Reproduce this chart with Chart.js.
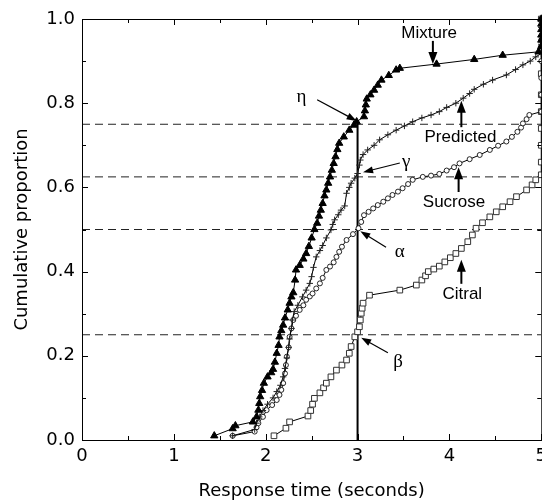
<!DOCTYPE html>
<html>
<head>
<meta charset="utf-8">
<script src="https://cdn.jsdelivr.net/npm/chart.js@4/dist/chart.umd.min.js"></script>
<style>
html,body{margin:0;padding:0;background:#fff;overflow:hidden;}
#wrap{position:relative;width:553px;height:502px;}
</style>
</head>
<body>
<div id="wrap"><canvas id="c" width="553" height="502"></canvas></div>
<script>
// ---- data ----
const mixtureX = [1.44,1.64,1.67,1.86,1.90,1.92,1.93,1.94,1.96,1.98,2.02,2.06,2.08,2.10,2.12,2.14,2.15,2.17,2.19,2.21,2.24,2.26,2.28,2.30,2.32,2.33,2.37,2.41,2.44,2.47,2.50,2.53,2.56,2.58,2.60,2.62,2.64,2.66,2.68,2.70,2.72,2.74,2.76,2.78,2.80,2.85,2.91,2.96,2.99,3.07,3.08,3.09,3.10,3.14,3.18,3.22,3.26,3.34,3.42,3.46,3.86,4.27,4.58,4.97,5.00,5.00,5.00,5.00,5.00,5.00];
const mixtureY = [0.010,0.027,0.034,0.043,0.055,0.071,0.087,0.103,0.118,0.135,0.150,0.160,0.168,0.185,0.206,0.225,0.245,0.260,0.273,0.290,0.309,0.325,0.340,0.350,0.380,0.404,0.415,0.430,0.443,0.460,0.480,0.500,0.515,0.532,0.546,0.562,0.580,0.594,0.610,0.625,0.641,0.657,0.673,0.690,0.705,0.720,0.736,0.748,0.756,0.768,0.782,0.796,0.810,0.820,0.831,0.843,0.855,0.866,0.879,0.883,0.893,0.904,0.914,0.922,0.935,0.950,0.962,0.975,0.988,1.000];

const predictedX = [1.64,1.88,1.90,1.93,1.97,2.02,2.08,2.12,2.16,2.19,2.21,2.23,2.25,2.26,2.28,2.29,2.31,2.35,2.40,2.44,2.48,2.50,2.52,2.55,2.59,2.62,2.66,2.71,2.73,2.75,2.79,2.82,2.86,2.88,2.91,2.93,2.97,3.00,3.02,3.03,3.06,3.11,3.18,3.24,3.33,3.42,3.51,3.60,3.70,3.80,3.89,3.97,4.07,4.15,4.22,4.27,4.37,4.47,4.62,4.72,4.80,4.88,4.94,5.00,5.00,5.00,5.00,5.00];
const predictedY = [0.010,0.025,0.040,0.055,0.070,0.085,0.100,0.115,0.130,0.150,0.170,0.195,0.220,0.240,0.265,0.285,0.305,0.320,0.340,0.356,0.372,0.388,0.410,0.435,0.450,0.462,0.480,0.499,0.512,0.523,0.535,0.546,0.556,0.586,0.600,0.610,0.622,0.633,0.653,0.665,0.678,0.689,0.700,0.713,0.725,0.736,0.746,0.756,0.765,0.772,0.780,0.790,0.800,0.812,0.823,0.833,0.845,0.855,0.867,0.880,0.891,0.900,0.910,0.918,0.940,0.960,0.980,1.000];

const sucroseX = [1.64,1.88,1.90,1.92,1.97,2.01,2.07,2.12,2.15,2.17,2.19,2.21,2.22,2.23,2.25,2.26,2.28,2.30,2.33,2.37,2.41,2.44,2.48,2.51,2.55,2.59,2.62,2.66,2.70,2.74,2.77,2.80,2.83,2.88,2.95,3.01,3.04,3.07,3.12,3.17,3.22,3.28,3.33,3.38,3.44,3.49,3.55,3.60,3.71,3.80,3.89,3.97,4.05,4.11,4.22,4.33,4.44,4.53,4.62,4.68,4.74,4.78,4.80,4.84,4.87,5.00,5.00,5.00,5.00,5.00,5.00];
const sucroseY = [0.010,0.020,0.030,0.040,0.055,0.071,0.083,0.095,0.107,0.119,0.135,0.158,0.178,0.198,0.220,0.245,0.265,0.285,0.295,0.309,0.320,0.333,0.341,0.348,0.360,0.372,0.385,0.404,0.412,0.422,0.435,0.447,0.459,0.475,0.489,0.503,0.518,0.534,0.542,0.550,0.558,0.566,0.574,0.582,0.590,0.598,0.608,0.618,0.625,0.628,0.632,0.640,0.648,0.657,0.667,0.677,0.689,0.699,0.709,0.720,0.732,0.742,0.752,0.762,0.772,0.780,0.820,0.860,0.900,0.950,1.000];

const citralX = [2.09,2.22,2.26,2.46,2.49,2.51,2.53,2.59,2.63,2.66,2.71,2.77,2.83,2.88,2.91,2.93,2.97,3.00,3.02,3.03,3.04,3.05,3.06,3.13,3.46,3.64,3.70,3.74,3.77,3.83,3.89,3.95,4.01,4.07,4.13,4.20,4.25,4.29,4.36,4.44,4.51,4.58,4.66,4.73,4.84,4.90,4.94,5.00,5.00,5.00,5.00,5.00,5.00,5.00,5.00,5.00];
const citralY = [0.010,0.028,0.043,0.057,0.070,0.085,0.099,0.112,0.124,0.135,0.150,0.166,0.178,0.190,0.206,0.222,0.245,0.257,0.269,0.285,0.301,0.313,0.325,0.344,0.356,0.368,0.380,0.390,0.400,0.406,0.413,0.423,0.433,0.443,0.455,0.471,0.487,0.503,0.516,0.530,0.542,0.554,0.566,0.578,0.594,0.606,0.618,0.630,0.660,0.700,0.740,0.780,0.820,0.870,0.930,1.000];

const guideLevels = [0.25, 0.5, 0.625, 0.75];
const cutTime = 3;
const cutTop = 0.756;
const xTickValues = [0,1,2,3,4,5];
const xMinorValues = [0.5,1.5,2.5,3.5,4.5];
const yTickValues = [0,0.2,0.4,0.6,0.8,1.0];
const yMinorValues = [0.1,0.3,0.5,0.7,0.9];

const labels = [
  {text:'Mixture',   tx:3.78, ty:0.967, from:[3.82,0.948], to:[3.82,0.893], bold:true, serif:false},
  {text:'η',         tx:2.39, ty:0.815, from:[2.56,0.808], to:[2.99,0.758], bold:false, serif:true},
  {text:'Predicted', tx:4.12, ty:0.718, from:[4.13,0.743], to:[4.13,0.806], bold:true, serif:false},
  {text:'γ',         tx:3.53, ty:0.660, from:[3.46,0.658], to:[3.06,0.636], bold:false, serif:true},
  {text:'Sucrose',   tx:4.05, ty:0.565, from:[4.10,0.589], to:[4.10,0.648], bold:true, serif:false},
  {text:'α',         tx:3.46, ty:0.447, from:[3.31,0.458], to:[3.03,0.496], bold:false, serif:true},
  {text:'Citral',    tx:4.14, ty:0.347, from:[4.13,0.371], to:[4.13,0.428], bold:true, serif:false},
  {text:'β',         tx:3.44, ty:0.185, from:[3.33,0.207], to:[3.04,0.243], bold:false, serif:true}
];

const pts = (xs, ys) => xs.map((x, i) => ({x: x, y: ys[i]}));

const datasets = [
  {label:'Mixture', data:pts(mixtureX,mixtureY), showLine:true, borderColor:'#000', borderWidth:1,
   pointStyle:'triangle', pointRadius:4.2, pointBackgroundColor:'#000', pointBorderColor:'#000', pointBorderWidth:1, clip:false},
  {label:'Predicted', data:pts(predictedX,predictedY), showLine:true, borderColor:'#000', borderWidth:1,
   pointStyle:'cross', pointRadius:3.2, pointBorderColor:'#222', pointBorderWidth:1, clip:false},
  {label:'Sucrose', data:pts(sucroseX,sucroseY), showLine:true, borderColor:'#000', borderWidth:1,
   pointStyle:'circle', pointRadius:2.5, pointBackgroundColor:'#fff', pointBorderColor:'#111', pointBorderWidth:0.9, clip:false},
  {label:'Citral', data:pts(citralX,citralY), showLine:true, borderColor:'#000', borderWidth:1,
   pointStyle:'rect', pointRadius:4, pointBackgroundColor:'#fff', pointBorderColor:'#333', pointBorderWidth:1, clip:false},
  {label:'cut', data:[{x:cutTime,y:0},{x:cutTime,y:cutTop}], showLine:true, borderColor:'#000', borderWidth:2, pointRadius:0}
];
guideLevels.forEach(g => datasets.push({label:'guide', data:[{x:0,y:g},{x:5,y:g}], showLine:true,
  borderColor:'#222', borderWidth:1, borderDash:[8,5], pointRadius:0}));

const framePlugin = {
  id:'frame',
  afterDatasetsDraw(chart){
    const {ctx, chartArea:a, scales:{x, y}} = chart;
    ctx.save();
    ctx.strokeStyle = '#000';
    ctx.lineWidth = 1;
    ctx.strokeRect(a.left + 0.5, a.top + 0.5, a.right - a.left, a.bottom - a.top);
    ctx.beginPath();
    const tick = (vals, len) => {
      vals.forEach(v => {
        const px = Math.round(x.getPixelForValue(v)) + 0.5;
        ctx.moveTo(px, a.bottom); ctx.lineTo(px, a.bottom - len);
        ctx.moveTo(px, a.top); ctx.lineTo(px, a.top + len);
      });
    };
    const tickY = (vals, len) => {
      vals.forEach(v => {
        const py = Math.round(y.getPixelForValue(v)) + 0.5;
        ctx.moveTo(a.left, py); ctx.lineTo(a.left + len, py);
        ctx.moveTo(a.right, py); ctx.lineTo(a.right - len, py);
      });
    };
    tick(xTickValues, 6); tick(xMinorValues, 4);
    tickY(yTickValues, 6); tickY(yMinorValues, 4);
    ctx.stroke();
    ctx.restore();
  },
  afterDraw(chart){
    const {ctx, scales:{x, y}} = chart;
    ctx.save();
    labels.forEach(l => {
      const fx = x.getPixelForValue(l.from[0]), fy = y.getPixelForValue(l.from[1]);
      const tx = x.getPixelForValue(l.to[0]), ty = y.getPixelForValue(l.to[1]);
      const ang = Math.atan2(ty - fy, tx - fx);
      const hl = l.bold ? 12 : 10, hw = l.bold ? 4.5 : 3.5;
      ctx.strokeStyle = '#000'; ctx.fillStyle = '#000';
      ctx.lineWidth = l.bold ? 2 : 1.2;
      ctx.beginPath();
      ctx.moveTo(fx, fy);
      ctx.lineTo(tx - Math.cos(ang) * hl * 0.8, ty - Math.sin(ang) * hl * 0.8);
      ctx.stroke();
      ctx.beginPath();
      ctx.moveTo(tx, ty);
      ctx.lineTo(tx - Math.cos(ang) * hl - Math.sin(ang) * hw, ty - Math.sin(ang) * hl + Math.cos(ang) * hw);
      ctx.lineTo(tx - Math.cos(ang) * hl + Math.sin(ang) * hw, ty - Math.sin(ang) * hl - Math.cos(ang) * hw);
      ctx.closePath();
      ctx.fill();
      ctx.font = l.serif ? '19px "Liberation Serif"' : '17px "Liberation Sans"';
      ctx.textAlign = 'center';
      ctx.textBaseline = 'middle';
      ctx.fillText(l.text, x.getPixelForValue(l.tx), y.getPixelForValue(l.ty));
    });
    ctx.restore();
  }
};

new Chart(document.getElementById('c'), {
  type:'scatter',
  data:{datasets:datasets},
  plugins:[framePlugin],
  options:{
    responsive:false,
    animation:false,
    events:[],
    layout:{padding:{top:19, right:0, left:0, bottom:0}},
    plugins:{legend:{display:false}, tooltip:{enabled:false}},
    scales:{
      x:{type:'linear', min:0, max:5,
         afterBuildTicks(s){ s.ticks = xTickValues.map(v => ({value:v})); },
         afterFit(s){ s.height = 62; },
         ticks:{color:'#000', padding:6, font:{family:'"DejaVu Sans"', size:18}, callback:v => String(v)},
         grid:{display:false, drawTicks:false}, border:{display:false},
         title:{display:true, text:'Response time (seconds)', color:'#000', font:{family:'"DejaVu Sans"', size:18}, padding:{top:0, bottom:0}}},
      y:{type:'linear', min:0, max:1,
         afterBuildTicks(s){ s.ticks = yTickValues.map(v => ({value:v})); },
         afterFit(s){ s.width = 82; },
         ticks:{color:'#000', padding:7, font:{family:'"DejaVu Sans"', size:18}, callback:v => v.toFixed(1)},
         grid:{display:false, drawTicks:false}, border:{display:false},
         title:{display:true, text:'Cumulative proportion', color:'#000', font:{family:'"DejaVu Sans"', size:18}, padding:{top:12, bottom:0}}}
    }
  }
});
</script>
</body>
</html>
